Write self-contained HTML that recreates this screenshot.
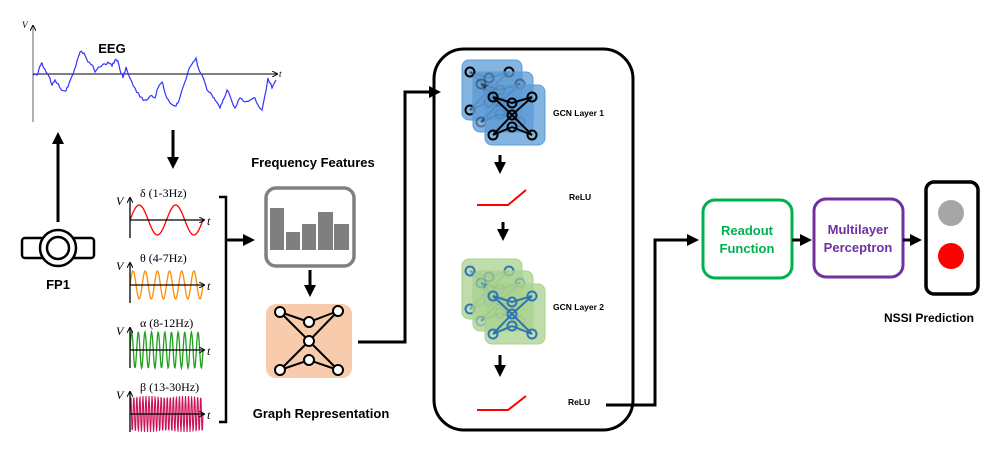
<!DOCTYPE html>
<html><head><meta charset="utf-8"><style>
html,body{margin:0;padding:0;background:#fff;}
svg{display:block;}
text{font-family:"Liberation Sans",sans-serif;font-weight:bold;}
.ser{font-family:"Liberation Serif",serif;font-weight:normal;}
</style></head><body>
<svg id="s" width="997" height="461" viewBox="0 0 997 461" xmlns="http://www.w3.org/2000/svg">
<defs>
<marker id="ah" markerWidth="4" markerHeight="4" refX="3" refY="2" orient="auto" markerUnits="strokeWidth"><path d="M0,0 L4,2 L0,4 z" fill="#000"/></marker>
<marker id="sa" markerWidth="6" markerHeight="6" refX="5" refY="3" orient="auto" markerUnits="userSpaceOnUse"><path d="M0,0 L6,3 L0,6" fill="none" stroke="#000" stroke-width="1"/></marker>
</defs>
<line x1="33" y1="122" x2="33" y2="26" stroke="#888" stroke-width="1.3" marker-end="url(#sa)"/>
<line x1="33" y1="74" x2="277" y2="74" stroke="#000" stroke-width="1" marker-end="url(#sa)"/>
<text x="22" y="28" class="ser" font-size="9" font-style="italic">V</text>
<text x="279" y="77" class="ser" font-size="9" font-style="italic">t</text>
<polyline id="eeg" fill="none" stroke="#3333ff" stroke-width="1.2"/>
<text x="112" y="53" font-size="13" text-anchor="middle">EEG</text>
<line x1="58" y1="222" x2="58" y2="135" stroke="#000" stroke-width="3" marker-end="url(#ah)"/>
<rect x="22" y="238" width="72" height="20" rx="3" fill="#fff" stroke="#000" stroke-width="2.5"/>
<circle cx="58" cy="248" r="18" fill="#fff" stroke="#000" stroke-width="2.5"/>
<circle cx="58" cy="248" r="11" fill="#fff" stroke="#000" stroke-width="2.5"/>
<text x="58" y="289" font-size="13" text-anchor="middle">FP1</text>
<line x1="173" y1="130" x2="173" y2="166" stroke="#000" stroke-width="3" marker-end="url(#ah)"/>
<g id="bands"></g>
<g class="ser" font-size="12">
<text x="116" y="205" class="ser" font-style="italic">V</text><text x="140" y="197" class="ser">δ  (1-3Hz)</text>
<text x="116" y="270" class="ser" font-style="italic">V</text><text x="140" y="262" class="ser">θ  (4-7Hz)</text>
<text x="116" y="335" class="ser" font-style="italic">V</text><text x="140" y="327" class="ser">α  (8-12Hz)</text>
<text x="116" y="399" class="ser" font-style="italic">V</text><text x="140" y="391" class="ser">β  (13-30Hz)</text>
<text x="207" y="225" class="ser" font-style="italic">t</text>
<text x="207" y="290" class="ser" font-style="italic">t</text>
<text x="207" y="355" class="ser" font-style="italic">t</text>
<text x="207" y="419" class="ser" font-style="italic">t</text>
</g>
<path d="M219,197 H226 V422 H219 M226,240 H250" fill="none" stroke="#000" stroke-width="2.5"/>
<line x1="228" y1="240" x2="252" y2="240" stroke="#000" stroke-width="3" marker-end="url(#ah)"/>
<text x="313" y="167" font-size="13" text-anchor="middle">Frequency Features</text>
<rect x="266" y="188" width="88" height="78" rx="10" fill="#fff" stroke="#808080" stroke-width="3.5"/>
<g fill="#7f7f7f">
<rect x="270" y="208" width="14" height="42"/><rect x="286" y="232" width="14" height="18"/>
<rect x="302" y="224" width="14" height="26"/><rect x="318" y="212" width="15" height="38"/>
<rect x="334" y="224" width="15" height="26"/></g>
<line x1="310" y1="270" x2="310" y2="294" stroke="#000" stroke-width="3" marker-end="url(#ah)"/>
<rect x="266" y="304" width="86" height="74" rx="10" fill="#f8cbad"/>
<g stroke="#000" stroke-width="2" fill="none">
<path d="M280,312 L309,322 L338,311 M280,312 L309,341 L338,311 M309,341 L280,370 M309,341 L338,370 M280,370 L309,360 L338,370"/>
</g>
<g fill="#fff" stroke="#000" stroke-width="2">
<circle cx="280" cy="312" r="5"/><circle cx="309" cy="322" r="5"/><circle cx="338" cy="311" r="5"/>
<circle cx="309" cy="341" r="5"/><circle cx="309" cy="360" r="5"/><circle cx="280" cy="370" r="5"/><circle cx="338" cy="370" r="5"/></g>
<text x="321" y="418" font-size="13" text-anchor="middle">Graph Representation</text>
<path d="M358,342 H405 V92 H438" fill="none" stroke="#000" stroke-width="3" marker-end="url(#ah)"/>
<rect x="434" y="49" width="199" height="381" rx="30" fill="none" stroke="#000" stroke-width="3"/>
<g id="gcn1"></g><g id="gcn2"></g>
<text x="553" y="116" font-size="8.5">GCN Layer 1</text>
<text x="553" y="310" font-size="8.5">GCN Layer 2</text>
<line x1="500" y1="155" x2="500" y2="171" stroke="#000" stroke-width="3" marker-end="url(#ah)"/>
<polyline points="477,205 508,205 526,190" fill="none" stroke="#f00" stroke-width="2"/>
<text x="569" y="200" font-size="8.5">ReLU</text>
<line x1="503" y1="222" x2="503" y2="238" stroke="#000" stroke-width="3" marker-end="url(#ah)"/>
<line x1="500" y1="355" x2="500" y2="374" stroke="#000" stroke-width="3" marker-end="url(#ah)"/>
<polyline points="477,410 508,410 526,396" fill="none" stroke="#f00" stroke-width="2"/>
<text x="568" y="405" font-size="8.5">ReLU</text>
<path d="M606,405 H655 V240 H696" fill="none" stroke="#000" stroke-width="3" marker-end="url(#ah)"/>
<rect x="703" y="200" width="89" height="78" rx="12" fill="#fff" stroke="#00b050" stroke-width="3"/>
<text x="747" y="235" font-size="13" fill="#00b050" text-anchor="middle">Readout</text>
<text x="747" y="253" font-size="13" fill="#00b050" text-anchor="middle">Function</text>
<line x1="792" y1="240" x2="809" y2="240" stroke="#000" stroke-width="3" marker-end="url(#ah)"/>
<rect x="814" y="199" width="89" height="78" rx="12" fill="#fff" stroke="#7030a0" stroke-width="3"/>
<text x="858" y="234" font-size="13" fill="#7030a0" text-anchor="middle">Multilayer</text>
<text x="858" y="252" font-size="13" fill="#7030a0" text-anchor="middle">Perceptron</text>
<line x1="903" y1="240" x2="919" y2="240" stroke="#000" stroke-width="3" marker-end="url(#ah)"/>
<rect x="926" y="182" width="52" height="112" rx="8" fill="#fff" stroke="#000" stroke-width="3.5"/>
<circle cx="951" cy="213" r="13" fill="#a6a6a6"/>
<circle cx="951" cy="256" r="13" fill="#f00"/>
<text x="929" y="322" font-size="12" text-anchor="middle">NSSI Prediction</text>
</svg>
<script>
var NS="http://www.w3.org/2000/svg";
function el(p,t,a){var e=document.createElementNS(NS,t);for(var k in a)e.setAttribute(k,a[k]);p.appendChild(e);return e;}
var P=[[33,75],[37,75],[40,66],[42,63],[46,72],[50,78],[52,85],[55,80],[60,88],[65,91],[68,87],[72,76],[75,68],[78,58],[80,52],[84,53],[88,62],[92,65],[95,72],[100,67],[105,64],[108,62],[112,66],[115,60],[118,61],[120,70],[123,78],[126,67],[130,78],[135,88],[140,97],[145,100],[150,96],[155,98],[158,88],[162,82],[165,93],[170,103],[175,106],[178,103],[182,90],[188,72],[192,64],[196,58],[198,67],[202,75],[207,90],[212,95],[215,100],[220,108],[223,100],[227,90],[230,96],[235,108],[240,98],[245,102],[250,100],[255,98],[258,105],[262,110],[265,95],[268,78],[272,88],[276,80]];
var pts=[],seed=3;function r(){seed=(seed*9301+49297)%233280;return seed/233280-0.5;}
for(var i=0;i<P.length-1;i++){for(var j=0;j<3;j++){var f=j/3;pts.push((P[i][0]+(P[i+1][0]-P[i][0])*f).toFixed(1)+","+(P[i][1]+(P[i+1][1]-P[i][1])*f+(j?r()*3:0)).toFixed(1));}}
pts.push("276,80");document.getElementById("eeg").setAttribute("points",pts.join(" "));
var g=document.getElementById("bands");
var B=[[220,15,2,"#ff0000",1.3],[285,14,6,"#ff8c00",1.3],[350,18,11,"#22a022",1.3],[414,18,24,"#cc1155",1.1]];
B.forEach(function(b){
 var y=b[0],s="";for(var x=0;x<=73;x+=0.5){s+=(130+x)+","+(y-b[1]*Math.sin(2*Math.PI*b[2]*x/73)).toFixed(2)+" ";}
 el(g,"polyline",{points:s,fill:"none",stroke:b[3],"stroke-width":b[4]});
 el(g,"line",{x1:130,y1:y+18,x2:130,y2:y-22,stroke:"#000","stroke-width":1.3,"marker-end":"url(#sa)"});
 el(g,"line",{x1:130,y1:y,x2:204,y2:y,stroke:"#000","stroke-width":1.2,"marker-end":"url(#sa)"});
});
function layer(id,off,fill,ncol){
 var G=document.getElementById(id);
 var sq=[[462,60],[473,72],[485,85]];
 var N=[[8,12],[27,18],[47,12],[27,30],[27,42],[8,50],[47,50]];
 sq.forEach(function(q,k){
  var x=q[0],y=q[1]+off;
  el(G,"rect",{x:x,y:y,width:60,height:60,rx:7,fill:fill,"fill-opacity":0.75,stroke:fill,"stroke-width":1});
  var a=k==2?1:0.35;
  var L=[[0,1],[1,2],[0,3],[2,3],[3,5],[3,6],[5,4],[4,6]];
  L.forEach(function(l){el(G,"line",{x1:x+N[l[0]][0],y1:y+N[l[0]][1],x2:x+N[l[1]][0],y2:y+N[l[1]][1],stroke:ncol,"stroke-width":2,"stroke-opacity":a});});
  N.forEach(function(n){el(G,"circle",{cx:x+n[0],cy:y+n[1],r:4.5,fill:"none",stroke:ncol,"stroke-width":2,"stroke-opacity":k==0?1:a});});
 });
}
layer("gcn1",0,"#5b9bd5","#000");
layer("gcn2",199,"#a9d18e","#2e75b6");
</script>
</body></html>
